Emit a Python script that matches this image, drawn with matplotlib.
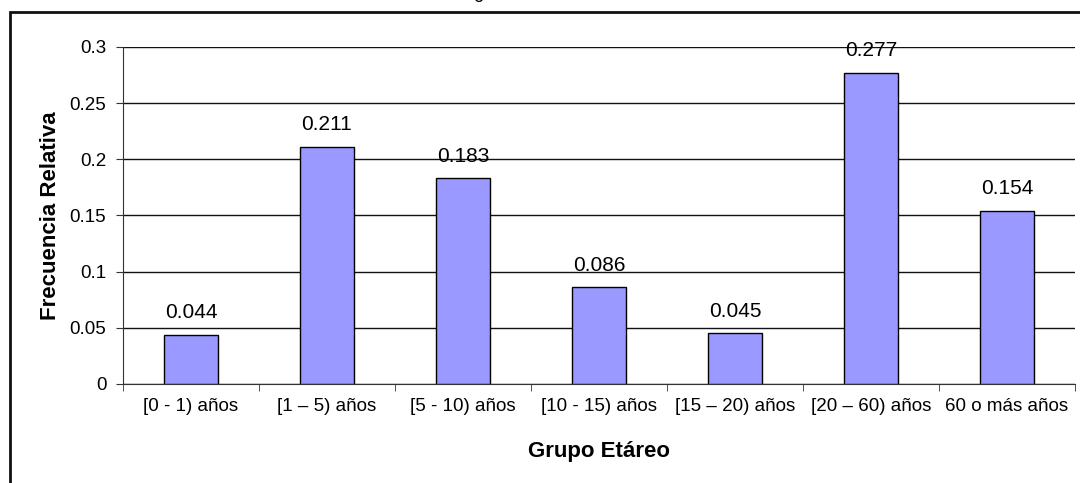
import matplotlib.pyplot as plt
from matplotlib import patches
import numpy as np

plt.rcParams['font.family'] = ['Liberation Sans', 'DejaVu Sans']

grupos = ["[0 - 1) años", "[1 – 5) años", "[5 - 10) años", "[10 - 15) años",
          "[15 – 20) años", "[20 – 60) años", "60 o más años"]
frecuencia = [0.044, 0.211, 0.183, 0.086, 0.045, 0.277, 0.154]
y_ticks = [0, 0.05, 0.1, 0.15, 0.2, 0.25, 0.3]
y_labels = ["0", "0.05", "0.1", "0.15", "0.2", "0.25", "0.3"]

W, H = 1080, 483
fig = plt.figure(figsize=(W / 100, H / 100), dpi=100)
ax = fig.add_axes([123 / W, 1 - 384 / H, 952 / W, (384 - 47) / H])

x = np.arange(len(grupos))
ax.bar(x, frecuencia, width=0.4, color="#9999FF", edgecolor="black", linewidth=1, zorder=3)
for xi, v in zip(x, frecuencia):
    ax.annotate(f"{v:.3f}", (xi, v), xytext=(0, 12), textcoords="offset points",
                ha="center", va="baseline", fontsize=15)

ax.set_xlim(-0.5, len(grupos) - 0.5)
ax.set_ylim(0, 0.3)
ax.set_yticks(y_ticks)
ax.set_yticklabels(y_labels, fontsize=13.5)
ax.set_xticks(x)
ax.set_xticklabels(grupos, fontsize=13.5)
ax.tick_params(axis="x", length=0, pad=10)
ax.set_xticks(np.arange(len(grupos) + 1) - 0.5, minor=True)
ax.tick_params(axis="x", which="minor", length=5, direction="out", color="#333333")
ax.tick_params(axis="y", length=5, direction="out", color="#333333", pad=7)
ax.grid(axis="y", color="#111111", linewidth=1, zorder=0)

for side in ["top", "right"]:
    ax.spines[side].set_visible(False)
ax.spines["left"].set_color("#333333")
ax.spines["bottom"].set_color("#333333")

ax.set_ylabel("Frecuencia Relativa", fontsize=16, fontweight="bold", labelpad=6)
ax.set_xlabel("Grupo Etáreo", fontsize=16, fontweight="bold", labelpad=19)

# chart frame (extends beyond the visible image on right and bottom)
frame = patches.Rectangle((9.5 / W, -0.1), 1.2, 1 - 12.5 / H + 0.1, transform=fig.transFigure,
                          fill=False, edgecolor="#111111", linewidth=2)
fig.add_artist(frame)
# cut-off title above the frame
fig.text(480 / W, 1 + 2 / H, "Histograma", ha="center", va="baseline", fontsize=13)

fig.savefig("out.png", dpi=100)
